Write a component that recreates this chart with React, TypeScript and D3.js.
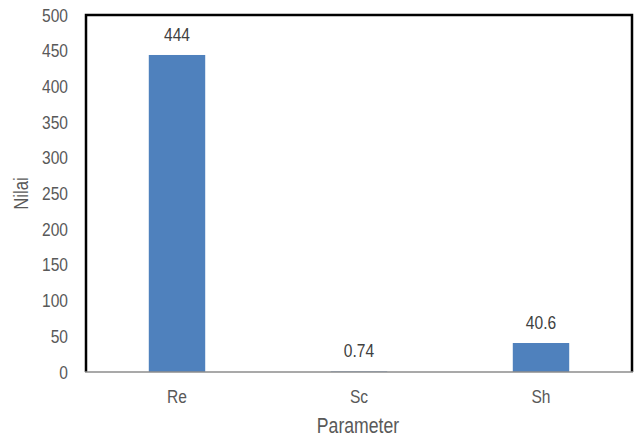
import * as d3 from 'd3'

const categories = ['Re', 'Sc', 'Sh']
const values = [444, 0.74, 40.6]
const valueLabels = ['444', '0.74', '40.6']
const yTicks = [0, 50, 100, 150, 200, 250, 300, 350, 400, 450, 500]

const W = 638
const H = 437
const margin = { top: 15, right: 6, bottom: 65, left: 86 }
const font = '"Liberation Sans", Arial, sans-serif'
const textColor = '#595959'
const squeeze = 0.82

// condensed text (the original uses a narrow face that is not installed)
function Narrow({ x, y, anchor = 'middle', size = 19, fill = textColor, rotate = 0, children }: {
  x: number; y: number; anchor?: string; size?: number; fill?: string; rotate?: number; children: any
}) {
  return (
    <text
      transform={`translate(${x},${y}) rotate(${rotate}) scale(${squeeze},1)`}
      textAnchor={anchor}
      fontFamily={font}
      fontSize={size}
      fill={fill}
    >
      {children}
    </text>
  )
}

export default function App() {
  const innerW = W - margin.left - margin.right
  const innerH = H - margin.top - margin.bottom

  const x = d3.scaleBand<string>()
    .domain(categories)
    .range([0, innerW])
    .paddingInner(0.69)
    .paddingOuter(0.345)

  const y = d3.scaleLinear().domain([0, 500]).range([innerH, 0])

  return (
    <svg width={W} height={H} style={{ position: 'absolute', left: 0, top: 0 }}>
      <rect width={W} height={H} fill="#fff" />
      <g transform={`translate(${margin.left},${margin.top})`}>
        {categories.map((c, i) => (
          <rect
            key={c}
            x={x(c)}
            y={y(values[i])}
            width={x.bandwidth()}
            height={innerH - y(values[i])}
            fill="#4F81BD"
          />
        ))}

        <path
          d={`M0,${innerH}V0H${innerW}V${innerH}`}
          fill="none"
          stroke="#000"
          strokeWidth={2.5}
        />
        <line x1={-1} x2={innerW + 1} y1={innerH} y2={innerH} stroke="#8c8c8c" strokeWidth={1.5} />

        {yTicks.map(t => (
          <Narrow key={t} x={-18} y={y(t) + 6.5} anchor="end">
            {t}
          </Narrow>
        ))}

        {categories.map((c, i) => (
          <Narrow key={c} x={(x(c) ?? 0) + x.bandwidth() / 2} y={y(values[i]) - 14} fill="#404040">
            {valueLabels[i]}
          </Narrow>
        ))}

        {categories.map(c => (
          <Narrow key={c} x={(x(c) ?? 0) + x.bandwidth() / 2} y={innerH + 31}>
            {c}
          </Narrow>
        ))}

        <Narrow x={innerW / 2 - 1} y={innerH + 61} size={21.5}>
          Parameter
        </Narrow>

        <Narrow x={-58} y={innerH / 2} size={20.5} rotate={-90}>
          Nilai
        </Narrow>
      </g>
    </svg>
  )
}
